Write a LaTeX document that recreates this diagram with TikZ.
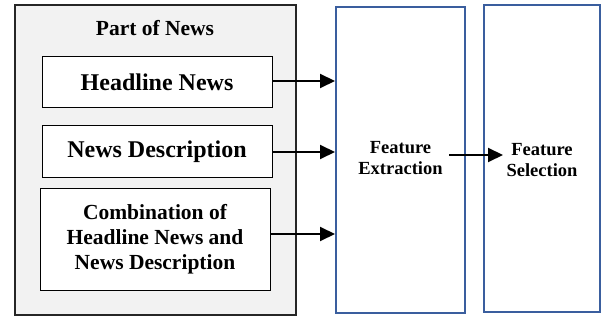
\documentclass[tikz,border=0pt]{standalone}
\usepackage{fontspec}
\setmainfont{Liberation Serif}
\usetikzlibrary{arrows.meta}
\definecolor{boxblue}{HTML}{3A5E9E}
\definecolor{panelgray}{HTML}{F2F2F2}
\begin{document}
\begin{tikzpicture}[x=1pt,y=-1pt,
  panel/.style={draw=black!85,line width=1.8pt,fill=panelgray},
  partbox/.style={draw=black,line width=1pt,fill=white,align=center,font=\bfseries\fontsize{24}{25}\selectfont},
  stagebox/.style={draw=boxblue,line width=2pt,fill=white},
  stagetext/.style={align=center,font=\bfseries\fontsize{18.5}{21}\selectfont},
  arr/.style={line width=2pt,-{Triangle[length=15pt,width=14pt]}}]
\useasboundingbox (0,0) rectangle (601,320);
\node[panel,minimum width=281pt,minimum height=310pt,inner sep=0pt] (panel) at (155.5,160) {};
\node[font=\bfseries\fontsize{21.5}{24}\selectfont] (title) at (155,28) {Part of News};
\node[partbox,minimum width=230pt,minimum height=51pt,inner sep=0pt] (b1) at (157,82.5) {Headline News};
\node[partbox,minimum width=230pt,minimum height=52pt,inner sep=0pt] (b2) at (157,152) {News Description};
\node[partbox,minimum width=230pt,minimum height=101pt,inner sep=0pt,font=\bfseries\fontsize{21.5}{25}\selectfont] (b3) at (155,239.5) {Combination of\\Headline News and\\News Description};
\node[stagebox,minimum width=129pt,minimum height=306pt,inner sep=0pt] (fe) at (400.5,160) {};
\node[stagebox,minimum width=116pt,minimum height=307pt,inner sep=0pt] (fs) at (542,158.5) {};
\node[stagetext] (fet) at (400.5,158) {Feature\\Extraction};
\node[stagetext] (fst) at (542,160) {Feature\\Selection};
\draw[arr] (b1.east |- 0,81) -- (fe.west |- 0,81);
\draw[arr] (b2.east |- 0,152) -- (fe.west |- 0,152);
\draw[arr] (b3.east |- 0,234) -- (fe.west |- 0,234);
\draw[arr] ([xshift=-17pt]fe.east |- 0,155) -- ([xshift=20pt]fs.west |- 0,155);
\end{tikzpicture}
\end{document}
